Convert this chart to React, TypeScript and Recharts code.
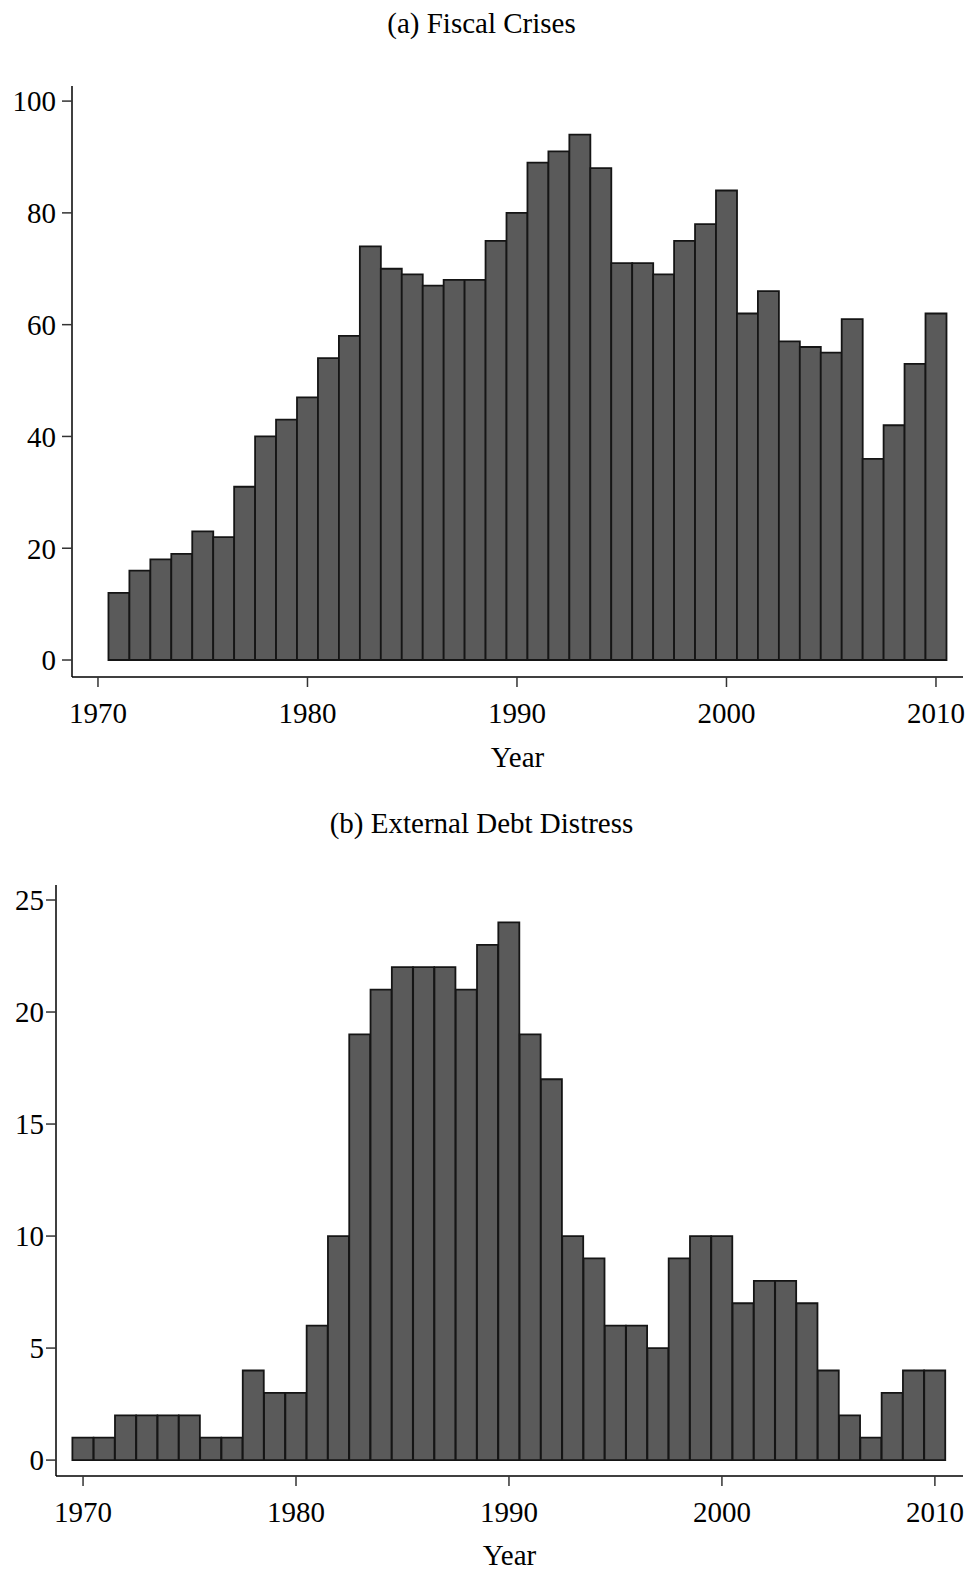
import React from 'react';
import { BarChart, Bar, XAxis, YAxis } from 'recharts';

// ---- data ----
const fiscalYears = [
  1971, 1972, 1973, 1974, 1975, 1976, 1977, 1978, 1979, 1980,
  1981, 1982, 1983, 1984, 1985, 1986, 1987, 1988, 1989, 1990,
  1991, 1992, 1993, 1994, 1995, 1996, 1997, 1998, 1999, 2000,
  2001, 2002, 2003, 2004, 2005, 2006, 2007, 2008, 2009, 2010,
];
const fiscalCounts = [
  12, 16, 18, 19, 23, 22, 31, 40, 43, 47,
  54, 58, 74, 70, 69, 67, 68, 68, 75, 80,
  89, 91, 94, 88, 71, 71, 69, 75, 78, 84,
  62, 66, 57, 56, 55, 61, 36, 42, 53, 62,
];
const debtYears = [
  1970, 1971, 1972, 1973, 1974, 1975, 1976, 1977, 1978, 1979, 1980,
  1981, 1982, 1983, 1984, 1985, 1986, 1987, 1988, 1989, 1990,
  1991, 1992, 1993, 1994, 1995, 1996, 1997, 1998, 1999, 2000,
  2001, 2002, 2003, 2004, 2005, 2006, 2007, 2008, 2009, 2010,
];
const debtCounts = [
  1, 1, 2, 2, 2, 2, 1, 1, 4, 3, 3,
  6, 10, 19, 21, 22, 22, 22, 21, 23, 24,
  19, 17, 10, 9, 6, 6, 5, 9, 10, 10,
  7, 8, 8, 7, 4, 2, 1, 3, 4, 4,
];
const yearTicks = [1970, 1980, 1990, 2000, 2010];
const fiscalTicks = [0, 20, 40, 60, 80, 100];
const debtTicks = [0, 5, 10, 15, 20, 25];
const titleA = '(a) Fiscal Crises';
const titleB = '(b) External Debt Distress';
const xLabel = 'Year';

const fiscalData = fiscalYears.map((year, i) => ({ year, count: fiscalCounts[i] }));
const debtData = debtYears.map((year, i) => ({ year, count: debtCounts[i] }));

// ---- styles ----
const FONT = '"Liberation Serif", "Times New Roman", serif';
const FS = 29;
const tickStyle = { fontFamily: FONT, fontSize: FS, fill: '#000' };
const BAR_FILL = '#5a5a5a';
const BAR_STROKE = '#151515';

type HistProps = {
  data: { year: number; count: number }[];
  xDomain: [number, number];
  yDomain: [number, number];
  yTicks: number[];
  width: number;
  height: number;
  margin: { top: number; right: number; bottom: number; left: number };
  yAxisWidth: number;
  xAxisHeight: number;
  yTickMargin: number;
  labelOffset: number;
};

function Hist(p: HistProps) {
  return (
    <BarChart
      width={p.width}
      height={p.height}
      data={p.data}
      margin={p.margin}
      barCategoryGap={0}
      barGap={0}
    >
      <XAxis
        dataKey="year"
        type="number"
        domain={p.xDomain}
        ticks={yearTicks}
        allowDataOverflow
        interval={0}
        height={p.xAxisHeight}
        tickSize={10}
        tickMargin={15}
        tick={tickStyle}
        axisLine={{ stroke: '#000', strokeWidth: 1.5 }}
        tickLine={{ stroke: '#333', strokeWidth: 1.5 }}
        label={{
          value: xLabel,
          position: 'insideBottom',
          offset: p.labelOffset,
          fontFamily: FONT,
          fontSize: FS,
          fill: '#000',
        }}
      />
      <YAxis
        type="number"
        domain={p.yDomain}
        ticks={p.yTicks}
        allowDataOverflow
        interval={0}
        width={p.yAxisWidth}
        tickSize={10}
        tickMargin={p.yTickMargin}
        tick={tickStyle}
        axisLine={{ stroke: '#000', strokeWidth: 1.5 }}
        tickLine={{ stroke: '#333', strokeWidth: 1.5 }}
      />
      <Bar
        dataKey="count"
        fill={BAR_FILL}
        stroke={BAR_STROKE}
        strokeWidth={1.8}
        isAnimationActive={false}
      />
    </BarChart>
  );
}

function Title({ text, top, baseline }: { text: string; top: number; baseline: number }) {
  return (
    <svg
      width={971}
      height={50}
      style={{ position: 'absolute', left: 0, top }}
    >
      <text
        x={481.5}
        y={baseline}
        textAnchor="middle"
        fontFamily={FONT}
        fontSize={FS}
        fill="#000"
      >
        {text}
      </text>
    </svg>
  );
}

export default function App() {
  return (
    <div
      style={{
        position: 'absolute',
        left: 0,
        top: 0,
        width: 971,
        height: 1570,
        background: '#fff',
        overflow: 'hidden',
      }}
    >
      <Title text={titleA} top={0} baseline={33} />
      <div style={{ position: 'absolute', left: 0, top: 0 }}>
        <Hist
          data={fiscalData}
          xDomain={[1968.76, 2011.29]}
          yDomain={[-3.04, 102.7]}
          yTicks={fiscalTicks}
          width={971}
          height={790}
          margin={{ top: 86, right: 8, bottom: 0, left: 0 }}
          yAxisWidth={72}
          xAxisHeight={113}
          yTickMargin={6}
          labelOffset={23}
        />
      </div>
      <Title text={titleB} top={800} baseline={33} />
      <div style={{ position: 'absolute', left: 0, top: 790 }}>
        <Hist
          data={debtData}
          xDomain={[1968.73, 2011.32]}
          yDomain={[-0.71, 25.67]}
          yTicks={debtTicks}
          width={971}
          height={780}
          margin={{ top: 95, right: 8, bottom: 0, left: 0 }}
          yAxisWidth={56}
          xAxisHeight={94}
          yTickMargin={2}
          labelOffset={5}
        />
      </div>
    </div>
  );
}
